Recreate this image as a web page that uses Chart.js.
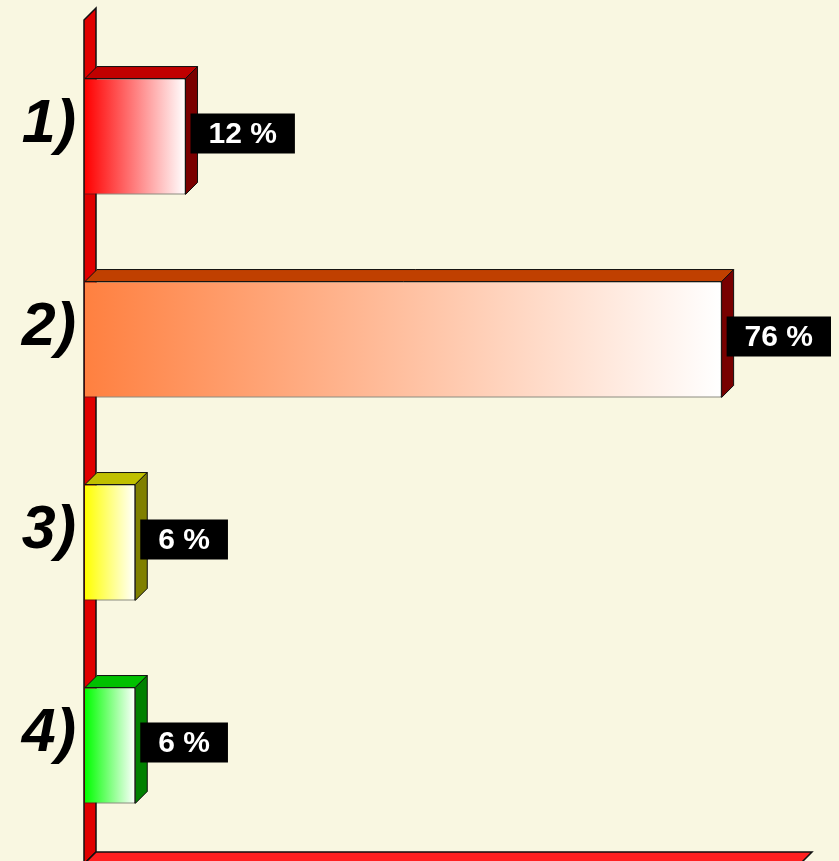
<!DOCTYPE html>
<html>
<head>
<meta charset="utf-8">
<script src="https://cdn.jsdelivr.net/npm/chart.js@4.4.0/dist/chart.umd.min.js"></script>
<style>
  html, body { margin: 0; padding: 0; background: #F9F7E1; }
  #wrap { width: 839px; height: 861px; position: relative; }
</style>
</head>
<body>
<div id="wrap"><canvas id="barChart"></canvas></div>
<script>
// chart data
var categories = ['1)', '2)', '3)', '4)'];
var values = [12, 76, 6, 6];
var axisMax = 85;

// bar colours: front (gradient start), top face, side face
var frontColors = ['#FF0000', '#FF8040', '#FFFF00', '#00FF00'];
var topColors = ['#C00000', '#C04000', '#C0C000', '#00C000'];
var sideColors = ['#7A0000', '#780000', '#808000', '#008000'];

var DEPTH = 12;

// Fill a polygon with outline
function poly(ctx, pts, fill, stroke, lw) {
   ctx.beginPath();
   ctx.moveTo(pts[0][0], pts[0][1]);
   for (var i = 1; i < pts.length; i++) ctx.lineTo(pts[i][0], pts[i][1]);
   ctx.closePath();
   ctx.fillStyle = fill;
   ctx.fill();
   ctx.lineWidth = lw || 1;
   ctx.strokeStyle = stroke;
   ctx.stroke();
}

// Plugin: background, 3D wall/floor, bar depth faces and value boxes
var box3d = {
   id: 'box3d',
   beforeDraw: function (chart) {
      var ctx = chart.ctx;
      ctx.save();
      ctx.fillStyle = '#F9F7E1';
      ctx.fillRect(0, 0, chart.width, chart.height);
      ctx.restore();
   },
   beforeDatasetsDraw: function (chart) {
      var ctx = chart.ctx, a = chart.chartArea;
      var L = a.left - 1;
      var wallTop = a.top - 27;
      var floorY = a.bottom + 5;
      var rightEnd = a.right + 3;
      ctx.save();
      // left wall
      poly(ctx, [[L, wallTop + DEPTH], [L + DEPTH, wallTop], [L + DEPTH, floorY], [L, floorY + DEPTH]], '#E00000', '#111', 1.5);
      // floor
      poly(ctx, [[L, floorY + DEPTH], [L + DEPTH, floorY], [rightEnd + DEPTH, floorY], [rightEnd, floorY + DEPTH]], '#FF2020', '#111', 1.5);
      ctx.restore();
   },
   afterDatasetsDraw: function (chart) {
      var ctx = chart.ctx;
      var meta = chart.getDatasetMeta(0);
      ctx.save();
      meta.data.forEach(function (bar, i) {
         var p = bar.getProps(['x', 'y', 'base', 'height'], true);
         var top = p.y - p.height / 2, bottom = p.y + p.height / 2;
         // top face
         poly(ctx, [[p.base, top], [p.base + DEPTH, top - DEPTH], [p.x + DEPTH, top - DEPTH], [p.x, top]], topColors[i], '#111', 1);
         // side face
         poly(ctx, [[p.x, top], [p.x + DEPTH, top - DEPTH], [p.x + DEPTH, bottom - DEPTH], [p.x, bottom]], sideColors[i], '#111', 1);

         // value label box
         var txt = values[i] + ' %';
         ctx.font = 'bold 30px "Liberation Sans", Arial, sans-serif';
         var tw = ctx.measureText(txt).width;
         var bw = tw + 36, bh = 40;
         var bx = p.x + 5, by = p.y - 3 - bh / 2;
         ctx.fillStyle = '#000';
         ctx.fillRect(bx, by, bw, bh);
         ctx.fillStyle = '#fff';
         ctx.textAlign = 'center';
         ctx.textBaseline = 'middle';
         ctx.fillText(txt, bx + bw / 2, by + bh / 2 + 1);
      });
      ctx.restore();
   }
};

var ctx = document.getElementById('barChart').getContext('2d');
new Chart(ctx, {
   type: 'bar',
   data: {
      labels: categories,
      datasets: [{
         data: values,
         backgroundColor: function (c) {
            var chart = c.chart;
            if (!chart.chartArea || !chart.scales.x) return frontColors[c.dataIndex];
            var xs = chart.scales.x;
            var x0 = xs.getPixelForValue(0);
            var x1 = xs.getPixelForValue(values[c.dataIndex]);
            var g = chart.ctx.createLinearGradient(x0, 0, x1, 0);
            g.addColorStop(0, frontColors[c.dataIndex]);
            g.addColorStop(1, '#FFFFFF');
            return g;
         },
         borderColor: '#222',
         borderWidth: 1,
         borderSkipped: 'start',
         barPercentage: 0.571,
         categoryPercentage: 1
      }]
   },
   options: {
      indexAxis: 'y',
      responsive: true,
      maintainAspectRatio: false,
      animation: false,
      layout: { padding: { top: 35, bottom: 14, right: 42, left: 0 } },
      plugins: {
         legend: { display: false },
         tooltip: { enabled: false }
      },
      scales: {
         x: {
            display: false,
            min: 0,
            max: axisMax
         },
         y: {
            grid: { display: false },
            border: { display: false },
            afterFit: function (scale) {
               scale.width = 85;
               scale.paddingTop = 0;
               scale.paddingBottom = 0;
            },
            ticks: {
               color: '#000',
               padding: 1,
               labelOffset: -11,
               font: {
                  family: '"Liberation Sans", Arial, sans-serif',
                  size: 61,
                  weight: 'bold',
                  style: 'italic'
               }
            }
         }
      }
   },
   plugins: [box3d]
});
</script>
</body>
</html>
